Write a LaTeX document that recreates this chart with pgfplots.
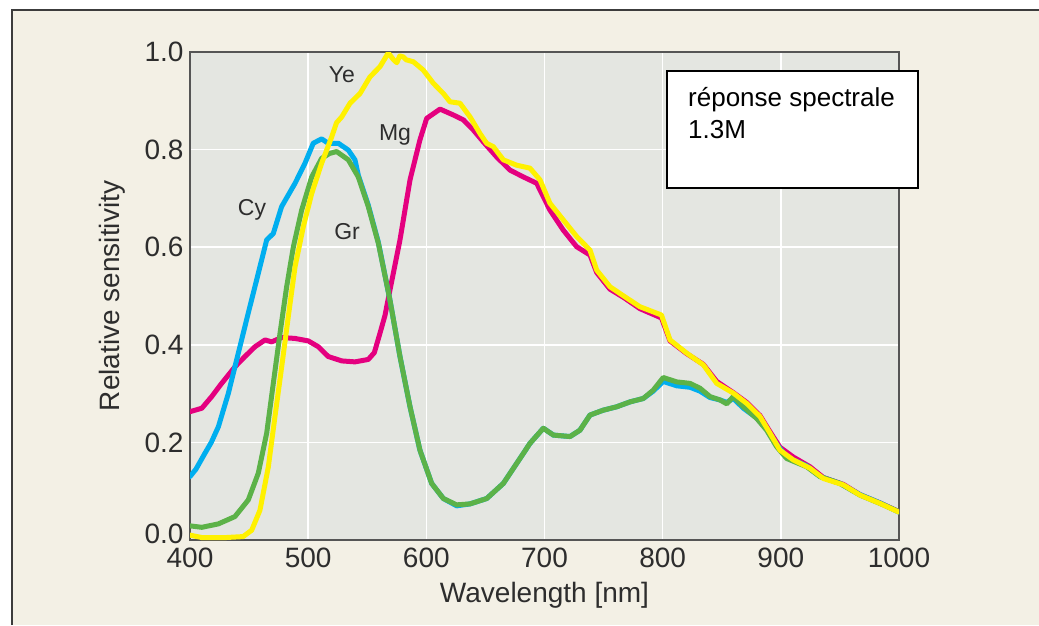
\documentclass[border=0pt]{standalone}
\usepackage{fontspec}
\setmainfont{Liberation Sans}
\usepackage{pgfplots}
\pgfplotsset{compat=1.18}
\definecolor{pagebg}{RGB}{243,240,229}
\definecolor{plotbg}{RGB}{228,230,225}
\definecolor{framecol}{RGB}{60,60,60}
\definecolor{axiscol}{RGB}{85,85,85}
\definecolor{txt}{RGB}{45,45,45}
\definecolor{cCy}{RGB}{0,174,239}
\definecolor{cMg}{RGB}{228,0,127}
\definecolor{cYe}{RGB}{255,241,0}
\definecolor{cGr}{RGB}{92,178,72}
\begin{document}
\begin{tikzpicture}
\useasboundingbox (0,0) rectangle (1039pt,625pt);
\fill[white] (0,0) rectangle (1039pt,625pt);
\fill[pagebg] (12pt,0) rectangle (1039pt,615pt);
\draw[framecol, line width=1.5pt] (12pt,0) -- (12pt,615pt) -- (1039pt,615pt);
\begin{axis}[
  at={(190pt,85pt)}, anchor=south west,
  scale only axis, width=709pt, height=488pt,
  xmin=400, xmax=1000, ymin=0, ymax=1,
  axis background/.style={fill=plotbg},
  axis line style={axiscol, line width=1.6pt},
  xtick={400,500,...,1000},
  xticklabels={400,500,600,700,800,900,1000},
  ytick={0,0.2,0.4,0.6,0.8,1.0},
  yticklabels={\raisebox{6pt}[\height][\depth]{0.0},0.2,0.4,0.6,0.8,1.0},
  major tick length=0pt,
  grid=major,
  major grid style={white, line width=1.5pt},
  ticklabel style={font=\fontsize{28}{28}\selectfont, text=txt},
  xticklabel style={yshift=-4pt},
  yticklabel style={xshift=-3pt},
  xlabel={Wavelength [nm]},
  ylabel={Relative sensitivity},
  label style={font=\fontsize{28}{28}\selectfont, text=txt},
  xlabel style={at={(axis description cs:0.5,-0.1127)}, anchor=center},
  ylabel style={at={(axis description cs:-0.110,0.5)}, anchor=center, rotate=0},
  every axis plot/.append style={line width=5pt, line join=round, line cap=round},
  clip=true,
]
\addplot[cMg] coordinates {
(400,0.263)(410,0.270)(418.4,0.294)(426.8,0.321)(438.1,0.355)(446.5,0.376)
(455,0.396)(463.5,0.410)(469.1,0.406)(477.6,0.415)(488.9,0.413)(500.1,0.408)
(508.6,0.396)(517,0.376)(528.4,0.367)(539.6,0.365)(550.9,0.370)(556,0.384)
(560.8,0.424)(565,0.460)(569.2,0.512)(577.7,0.615)(586.2,0.738)(594.6,0.820)
(600.3,0.864)(611.6,0.883)(622.8,0.871)(631.3,0.861)(639.8,0.840)(648.2,0.816)
(659.5,0.785)(670.8,0.758)(682.1,0.744)(693.4,0.731)(704.6,0.676)(715.9,0.635)
(727.2,0.601)(738.5,0.584)(744.2,0.548)(755.4,0.514)(767,0.497)(780.8,0.474)
(799,0.455)(806.2,0.408)(820.3,0.382)(834.4,0.360)(845.7,0.325)(859.8,0.302)
(871.1,0.282)(882.4,0.255)(890.8,0.222)(899.3,0.190)(910.6,0.170)(924.7,0.150)
(936,0.128)(952.9,0.114)(967,0.093)(983.9,0.076)(1000,0.058)
};
\addplot[cCy] coordinates {
(400,0.130)(405,0.145)(412.7,0.178)(418,0.200)(424,0.232)(432.4,0.300)
(440.9,0.383)(449.3,0.465)(456.4,0.533)(464.9,0.615)(470.5,0.628)(477.5,0.683)
(488.9,0.731)(497.3,0.772)(504.3,0.813)(511.4,0.822)(517,0.813)(525.5,0.813)
(534,0.799)(539.6,0.779)(542.4,0.748)(550.9,0.686)(559.4,0.610)(569.2,0.492)
(577.7,0.376)(586.2,0.273)(594.6,0.184)(604.5,0.116)(614.4,0.085)(625.7,0.070)
(637,0.074)(651.1,0.085)(665.2,0.116)(676.5,0.157)(687.7,0.198)(699,0.229)
(707.5,0.215)(721.6,0.212)(730,0.225)(738.5,0.256)(749.7,0.266)(761.1,0.273)
(772.3,0.283)(783.6,0.290)(792,0.305)(800.5,0.325)(811.8,0.316)(823.1,0.313)
(831.6,0.305)(840,0.292)(848.5,0.287)(854.2,0.282)(859.8,0.290)(868.3,0.270)
(879.6,0.250)(888,0.228)(896.5,0.196)(905,0.170)(921.9,0.152)(933.1,0.130)
(950,0.116)(967,0.093)(983.9,0.076)(1000,0.057)
};
\addplot[cGr] coordinates {
(400,0.029)(410,0.026)(424,0.033)(438,0.048)(449.3,0.082)(457.8,0.137)
(464.9,0.219)(470.5,0.321)(476.2,0.424)(481.8,0.519)(487.5,0.601)(494.5,0.676)
(503,0.744)(511.4,0.782)(518,0.792)(524.1,0.796)(534,0.779)(542.4,0.744)
(550.9,0.683)(559.4,0.608)(569.2,0.492)(577.7,0.376)(586.2,0.273)(594.6,0.184)
(604.5,0.116)(614.4,0.085)(625.7,0.072)(637,0.074)(651.1,0.085)(665.2,0.116)
(676.5,0.157)(687.7,0.198)(699,0.229)(707.5,0.215)(721.6,0.212)(730,0.225)
(738.5,0.256)(749.7,0.266)(761.1,0.273)(772.3,0.283)(783.6,0.290)(792,0.307)
(800.5,0.333)(811.8,0.324)(823.1,0.321)(831.6,0.311)(840,0.294)(848.5,0.287)
(854.2,0.279)(859.8,0.294)(868.3,0.273)(879.6,0.249)(888,0.225)(896.5,0.191)
(905,0.167)(921.9,0.150)(933.1,0.130)(950,0.116)(967,0.092)(983.9,0.075)
(1000,0.058)
};
\addplot[cYe] coordinates {
(400,0.010)(410,0.005)(430,0.005)(445,0.007)(452.2,0.020)(459.2,0.061)
(466.3,0.150)(471.9,0.253)(477.6,0.355)(483.2,0.458)(488.9,0.560)(495.9,0.642)
(503,0.710)(511.4,0.772)(519.9,0.826)(524,0.855)(528.4,0.867)(535.4,0.895)
(543.9,0.915)(552.3,0.949)(560.8,0.970)(567.8,0.998)(572,0.985)(575,0.978)
(577.5,0.992)(580.5,0.990)(583,0.984)(589,0.980)(597.4,0.963)(605.9,0.936)
(614.4,0.915)(620,0.898)(628.5,0.895)(637,0.867)(645.4,0.833)(651,0.813)
(656.7,0.806)(665.2,0.779)(676.5,0.768)(687.7,0.762)(696.2,0.738)(704.6,0.690)
(715.9,0.656)(727.2,0.622)(738.5,0.594)(744.2,0.553)(755.4,0.519)(767,0.500)
(780.8,0.478)(799,0.461)(806.2,0.410)(820.3,0.383)(834.4,0.359)(845.7,0.321)
(859.8,0.301)(871.1,0.280)(882.4,0.253)(890.8,0.219)(899.3,0.184)(910.6,0.164)
(924.7,0.147)(936,0.126)(952.9,0.113)(967,0.092)(983.9,0.075)(1000,0.057)
};
\node[font=\fontsize{23}{23}\selectfont, text=txt] at (axis cs:528.6,0.953) {Ye};
\node[font=\fontsize{23}{23}\selectfont, text=txt] at (axis cs:573.5,0.830) {Mg};
\node[font=\fontsize{23}{23}\selectfont, text=txt] at (axis cs:452.5,0.676) {Cy};
\node[font=\fontsize{23}{23}\selectfont, text=txt] at (axis cs:532.9,0.631) {Gr};
\end{axis}
\draw[black, line width=1.5pt, fill=white] (667pt,437pt) rectangle (918pt,554pt);
\node[anchor=base west, inner sep=0pt, font=\fontsize{26}{26}\selectfont] at (688pt,518pt) {réponse spectrale};
\node[anchor=base west, inner sep=0pt, font=\fontsize{26}{26}\selectfont] at (688pt,486pt) {1.3M};
\end{tikzpicture}
\end{document}
